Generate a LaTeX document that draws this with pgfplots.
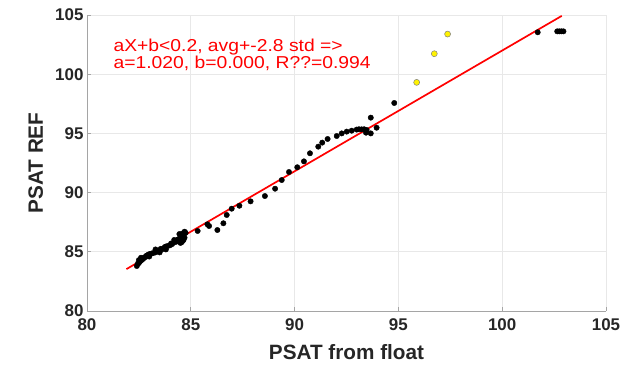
\documentclass[border=0pt]{standalone}
\usepackage{fontspec}
\setmainfont{Liberation Sans}
\newfontfamily\redfont{Liberation Sans}[FakeStretch=1.12]
\usepackage{pgfplots}
\pgfplotsset{compat=1.18}
\definecolor{tickgray}{RGB}{38,38,38}
\definecolor{gridgray}{RGB}{232,232,232}
\definecolor{axgray}{RGB}{165,165,165}
\begin{document}
\begin{tikzpicture}
\path[use as bounding box] (-87bp,-56bp) rectangle (554bp,311bp);
\begin{axis}[
  scale only axis, width=519bp, height=296bp,
  xmin=80, xmax=105, ymin=80, ymax=105,
  xtick={80,85,...,105}, ytick={80,85,...,105},
  axis x line*=bottom, axis y line*=left,
  axis line style={axgray, line width=0.8bp},
  grid=major, major grid style={gridgray, line width=0.6bp},
  tick style={axgray, line width=0.8bp}, major tick length=4bp, tick align=inside,
  /pgf/number format/assume math mode=true,
  ticklabel style={font=\fontsize{17}{20}\selectfont\bfseries, text=tickgray},
  xticklabel style={yshift=-4bp},
  xlabel={PSAT from float}, ylabel={PSAT REF},
  label style={font=\fontsize{20.8}{24}\selectfont\bfseries, text=tickgray},
  xlabel style={at={(axis description cs:0.5,-0.1655)}, anchor=base},
  ylabel style={at={(axis description cs:-0.0848,0.5)}, anchor=base},
]
\addplot[only marks, mark=*, mark size=2.7bp, mark options={fill=black, draw=black}] table {
x y
82.40 83.80
82.45 84.00
82.50 84.05
82.50 84.30
82.55 84.20
82.60 84.25
82.60 84.50
82.65 84.35
82.70 84.40
82.75 84.50
82.80 84.55
82.85 84.65
82.90 84.70
82.95 84.75
83.00 84.60
83.00 84.80
83.10 84.85
83.20 84.90
83.30 84.95
83.30 85.20
83.40 85.05
83.50 84.95
83.50 85.10
83.55 85.25
83.60 85.20
83.70 85.30
83.75 85.40
83.80 85.20
83.80 85.45
83.90 85.50
84.00 85.55
84.05 85.70
84.10 85.65
84.20 85.80
84.20 86.00
84.25 85.90
84.30 85.85
84.35 86.00
84.40 86.05
84.45 86.10
84.50 86.20
84.55 85.80
84.60 85.90
84.55 86.30
84.45 86.50
84.60 86.55
84.70 86.70
84.75 86.60
84.65 86.00
84.70 86.20
84.50 85.75
85.33 86.76
85.80 87.32
85.88 87.18
86.28 86.84
86.57 87.41
86.73 88.11
86.97 88.64
87.34 88.89
87.88 89.26
88.57 89.71
89.06 90.33
89.38 91.06
89.73 91.74
90.13 92.14
90.45 92.64
90.74 93.32
91.14 93.88
91.33 94.22
91.59 94.53
92.03 94.78
92.27 95.00
92.51 95.15
92.75 95.23
92.99 95.32
93.10 95.35
93.23 95.34
93.35 95.35
93.47 95.29
93.44 95.06
93.67 95.00
93.67 96.33
93.95 95.48
94.80 97.57
101.71 103.54
102.65 103.62
102.75 103.62
102.85 103.62
102.95 103.62
};
\addplot[only marks, mark=*, mark size=3bp, mark options={fill=yellow, draw=gray, line width=0.5bp}] table {
x y
95.88 99.31
96.73 101.73
97.37 103.39
};
\addplot[red, line width=1.7bp, no marks] coordinates {(81.9,83.538) (102.87,104.927)};
\node[anchor=base west, text=red, font=\redfont\fontsize{17.3}{20}\selectfont, inner sep=0pt] at (axis cs:81.27,101.9) {aX+b<0.2, avg+-2.8 std =>};
\node[anchor=base west, text=red, font=\redfont\fontsize{17.3}{20}\selectfont, inner sep=0pt] at (axis cs:81.27,100.5) {a=1.020, b=0.000, R??=0.994};
\end{axis}
\end{tikzpicture}
\end{document}
